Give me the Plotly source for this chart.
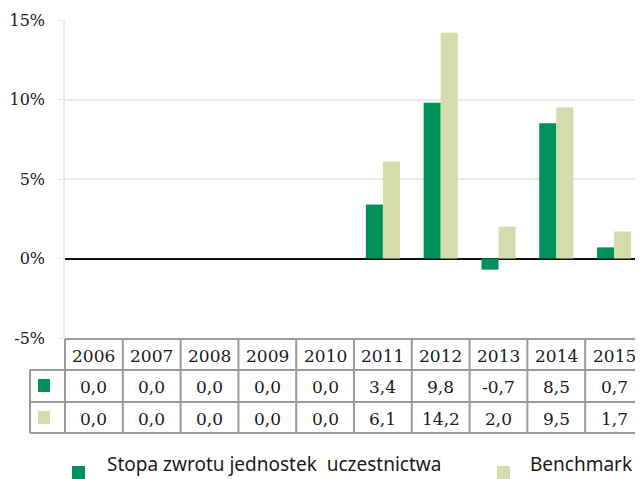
import plotly.graph_objects as go

years = ["2006", "2007", "2008", "2009", "2010", "2011", "2012", "2013", "2014", "2015"]
fund_name = "Stopa zwrotu jednostek\u00a0 uczestnictwa"
bench_name = "Benchmark"
fund = [0.0, 0.0, 0.0, 0.0, 0.0, 3.4, 9.8, -0.7, 8.5, 0.7]
bench = [0.0, 0.0, 0.0, 0.0, 0.0, 6.1, 14.2, 2.0, 9.5, 1.7]
y_ticks = [-5, 0, 5, 10, 15]

GREEN = "#00905a"
LIGHT = "#d3dcaa"
TXT = "#1a1a1a"
BORDER = "#9a9a9a"
SERIF = "DejaVu Serif"
SANS = "Noto Sans"

# page body has an 8px margin; work in reference pixel coords and offset
OFF = 8
W, H = 643 - OFF, 479 - OFF
L, R, T, B = 65 - OFF, 0, 20 - OFF, 141
PW = W - L - R
PH = H - T - B


def px(x):
    return (x - OFF - L) / PW


def py(y):
    return (H - B - (y - OFF)) / PH


fig = go.Figure()
fig.add_trace(go.Bar(x=years, y=fund, name=fund_name, marker=dict(color=GREEN, line=dict(width=0))))
fig.add_trace(go.Bar(x=years, y=bench, name=bench_name, marker=dict(color=LIGHT, line=dict(width=0))))

shapes = []
annotations = []
line = dict(color=BORDER, width=2)

# table horizontal lines
shapes.append(dict(type="line", xref="paper", yref="paper", x0=px(65), x1=px(643), y0=py(339), y1=py(339), line=line))
for yy in (370, 402, 433):
    shapes.append(dict(type="line", xref="paper", yref="paper", x0=px(30), x1=px(643), y0=py(yy), y1=py(yy), line=line))
# vertical lines
shapes.append(dict(type="line", xref="paper", yref="paper", x0=px(30), x1=px(30), y0=py(370), y1=py(433), line=line))
n = len(years)
for i in range(n + 1):
    xx = i / n
    if i == n:
        xx = px(642)
    shapes.append(dict(type="line", xref="paper", yref="paper", x0=xx, x1=xx, y0=py(339), y1=py(433), line=line))

# row markers
for color, (y0, y1) in ((GREEN, (379, 392)), (LIGHT, (411, 424))):
    shapes.append(dict(type="rect", xref="paper", yref="paper", x0=px(38), x1=px(50), y0=py(y1), y1=py(y0),
                       fillcolor=color, line=dict(width=0)))


def fmt(v):
    return f"{v:.1f}".replace(".", ",")


for i, yr in enumerate(years):
    xc = (i + 0.5) / n
    annotations.append(dict(x=xc, y=py(356), xref="paper", yref="paper", text=yr, showarrow=False,
                            font=dict(family=SERIF, size=17, color=TXT), xanchor="center", yanchor="middle"))
    annotations.append(dict(x=xc, y=py(387), xref="paper", yref="paper", text=fmt(fund[i]), showarrow=False,
                            font=dict(family=SERIF, size=17, color=TXT), xanchor="center", yanchor="middle"))
    annotations.append(dict(x=xc, y=py(419), xref="paper", yref="paper", text=fmt(bench[i]), showarrow=False,
                            font=dict(family=SERIF, size=17, color=TXT), xanchor="center", yanchor="middle"))

# legend
shapes.append(dict(type="rect", xref="paper", yref="paper", x0=px(72), x1=px(85), y0=py(479), y1=py(466),
                   fillcolor=GREEN, line=dict(width=0)))
shapes.append(dict(type="rect", xref="paper", yref="paper", x0=px(497), x1=px(510), y0=py(479), y1=py(466),
                   fillcolor=LIGHT, line=dict(width=0)))
annotations.append(dict(x=px(105), y=py(479), xref="paper", yref="paper", text=fund_name, showarrow=False,
                        font=dict(family=SANS, size=19, color=TXT), xanchor="left", yanchor="bottom"))
annotations.append(dict(x=px(528), y=py(479), xref="paper", yref="paper", text=bench_name, showarrow=False,
                        font=dict(family=SANS, size=19, color=TXT), xanchor="left", yanchor="bottom"))

fig.update_layout(
    width=W, height=H,
    margin=dict(l=L, r=R, t=T, b=B),
    paper_bgcolor="white", plot_bgcolor="white",
    barmode="group", bargap=0.41, bargroupgap=0,
    showlegend=False,
    shapes=shapes, annotations=annotations,
    xaxis=dict(range=[-0.5, n - 0.5], showticklabels=False, showgrid=False, zeroline=False, showline=False, ticks=""),
    yaxis=dict(range=[-5, 15], tickvals=y_ticks, ticktext=[f"{v}%" for v in y_ticks],
               showgrid=True, gridcolor="#ebebe6", gridwidth=1.5,
               zeroline=True, zerolinecolor="#111111", zerolinewidth=1.5,
               showline=True, linecolor="#ebebe0", linewidth=1.5,
               ticks="outside", ticklen=5, tickcolor="#ebebe6", ticklabelstandoff=10,
               tickfont=dict(family=SERIF, size=16, color=TXT)),
)

fig.write_html("out.html")
